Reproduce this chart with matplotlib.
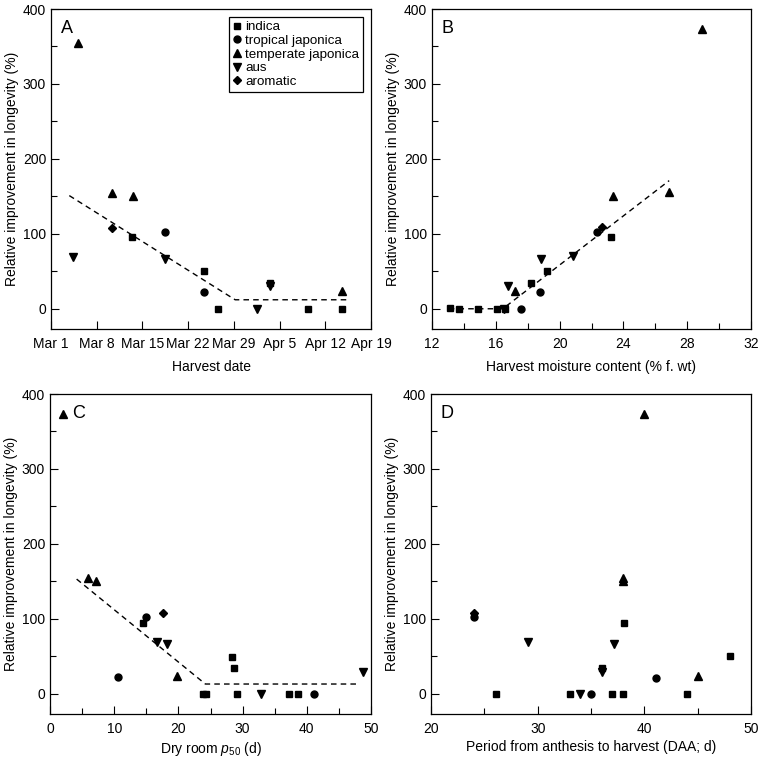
import numpy as np
import matplotlib
matplotlib.use("Agg")
import matplotlib.pyplot as plt
from matplotlib.ticker import MultipleLocator

plt.rcParams['font.family'] = ['Liberation Sans', 'DejaVu Sans']
plt.rcParams['mathtext.fontset'] = 'custom'
plt.rcParams['mathtext.rm'] = 'Liberation Sans'
plt.rcParams['mathtext.it'] = 'Liberation Sans:italic'

groups = ["indica", "tropical japonica", "temperate japonica", "aus", "aromatic"]
markers = {"indica": ("s", 4.5), "tropical japonica": ("o", 5.0),
           "temperate japonica": ("^", 5.5), "aus": ("v", 5.5), "aromatic": ("D", 4.5)}

# A: harvest date (days after Mar 1)
date_ticks = [0, 7, 14, 21, 28, 35, 42, 49]
date_labels = ["Mar 1", "Mar 8", "Mar 15", "Mar 22", "Mar 29", "Apr 5", "Apr 12", "Apr 19"]
a_x = {"indica": [12.4, 23.4, 25.6, 33.5, 39.4, 44.5],
       "tropical japonica": [17.5, 23.4],
       "temperate japonica": [4.1, 9.4, 12.6, 44.5],
       "aus": [3.4, 17.5, 31.5, 33.5],
       "aromatic": [9.4]}
a_y = {"indica": [96, 51, 0, 35, 0, 0],
       "tropical japonica": [103, 22],
       "temperate japonica": [355, 155, 150, 24],
       "aus": [69, 66, 0, 30],
       "aromatic": [108]}
a_fit_x = [2.8, 28.2, 45.8]
a_fit_y = [151, 12, 12]

# B: harvest moisture content
b_x = {"indica": [13.13, 13.67, 14.86, 16.06, 16.6, 18.18, 19.2, 23.2],
       "tropical japonica": [17.6, 18.74, 22.35],
       "temperate japonica": [17.2, 23.35, 26.87, 28.94],
       "aus": [16.5, 16.75, 18.85, 20.84],
       "aromatic": [22.68]}
b_y = {"indica": [1, 0, 0, 0, 0, 35, 51, 96],
       "tropical japonica": [0, 22, 103],
       "temperate japonica": [24, 151, 156, 373],
       "aus": [0, 30, 66, 70],
       "aromatic": [109]}
b_fit_x = [13.05, 16.44, 26.87]
b_fit_y = [0, 0, 171]

# C: dry room p50
c_x = {"indica": [14.5, 23.8, 24.35, 28.3, 28.7, 29.2, 37.25, 38.65],
       "tropical japonica": [10.57, 14.9, 41.1],
       "temperate japonica": [2.07, 5.85, 7.15, 19.74],
       "aus": [16.7, 18.2, 32.8, 48.7],
       "aromatic": [17.67]}
c_y = {"indica": [95, 0, 0, 49, 34, 0, 0, 0],
       "tropical japonica": [22, 102, 0],
       "temperate japonica": [373, 155, 151, 24],
       "aus": [69, 66, 0, 29],
       "aromatic": [108]}
c_fit_x = [4.15, 24.2, 47.9]
c_fit_y = [153, 13, 13]

# D: days after anthesis
d_x = {"indica": [26.1, 33.0, 36.05, 37.0, 37.98, 38.07, 44.0, 48.0],
       "tropical japonica": [24.07, 35.0, 41.06],
       "temperate japonica": [38.0, 38.0, 40.0, 45.07],
       "aus": [29.05, 34.0, 36.0, 37.14],
       "aromatic": [24.07]}
d_y = {"indica": [0, 0, 35, 0, 0, 95, 0, 51],
       "tropical japonica": [102, 0, 21],
       "temperate japonica": [155, 151, 373, 24],
       "aus": [69, 0, 29, 66],
       "aromatic": [108]}

ylab = "Relative improvement in longevity (%)"
fs = 10

fig = plt.figure(figsize=(7.6, 7.58), dpi=100)
W, H = 760, 758
def box(l, t, r, b):
    return [l / W, 1 - b / H, (r - l) / W, (b - t) / H]

axA = fig.add_axes(box(51, 9, 371, 329))
axB = fig.add_axes(box(432, 9, 751, 329))
axC = fig.add_axes(box(50, 394, 371, 714))
axD = fig.add_axes(box(431, 394, 751, 714))

def draw(ax, xs, ys, fit_x=None, fit_y=None, letter="", lx=0.03):
    for g in groups:
        m, ms = markers[g]
        ax.plot(xs[g], ys[g], linestyle="none", marker=m, markersize=ms,
                color="black", label=g, clip_on=False)
    if fit_x is not None:
        ax.plot(fit_x, fit_y, color="black", lw=1, dashes=(4, 3))
    ax.set_ylim(-27, 400)
    ax.yaxis.set_major_locator(MultipleLocator(100))
    ax.yaxis.set_minor_locator(MultipleLocator(50))
    ax.tick_params(which="both", direction="in", labelsize=fs, width=0.8)
    ax.tick_params(which="major", length=6)
    ax.tick_params(which="minor", length=4)
    ax.tick_params(axis="y", pad=3.5)
    ax.tick_params(axis="x", pad=6)
    ax.set_ylabel(ylab, fontsize=fs, labelpad=3)
    for s in ax.spines.values():
        s.set_linewidth(0.9)
    ax.text(lx, 0.965, letter, transform=ax.transAxes, fontsize=13, va="top", ha="left")

draw(axA, a_x, a_y, a_fit_x, a_fit_y, "A")
axA.set_xlim(0, 49)
axA.set_xticks(date_ticks, date_labels)
axA.set_xlabel("Harvest date", fontsize=fs, labelpad=6)
leg = axA.legend(loc="upper right", fontsize=9.6, handlelength=0.6, handletextpad=0.3,
                 labelspacing=0.1, borderpad=0.3, borderaxespad=0.6, fancybox=False,
                 edgecolor="black", framealpha=1)
leg.get_frame().set_linewidth(0.9)

draw(axB, b_x, b_y, b_fit_x, b_fit_y, "B")
axB.set_xlim(12, 32)
axB.xaxis.set_major_locator(MultipleLocator(4))
axB.xaxis.set_minor_locator(MultipleLocator(2))
axB.set_xlabel("Harvest moisture content (% f. wt)", fontsize=fs, labelpad=6)

draw(axC, c_x, c_y, c_fit_x, c_fit_y, "C", lx=0.07)
axC.set_xlim(0, 50)
axC.xaxis.set_major_locator(MultipleLocator(10))
axC.xaxis.set_minor_locator(MultipleLocator(5))
axC.set_xlabel(r"Dry room $p_{50}$ (d)", fontsize=fs, labelpad=3)

draw(axD, d_x, d_y, letter="D")
axD.set_xlim(20, 50)
axD.xaxis.set_major_locator(MultipleLocator(10))
axD.xaxis.set_minor_locator(MultipleLocator(5))
axD.set_xlabel("Period from anthesis to harvest (DAA; d)", fontsize=fs, labelpad=3)

fig.savefig("out.png", dpi=100)
